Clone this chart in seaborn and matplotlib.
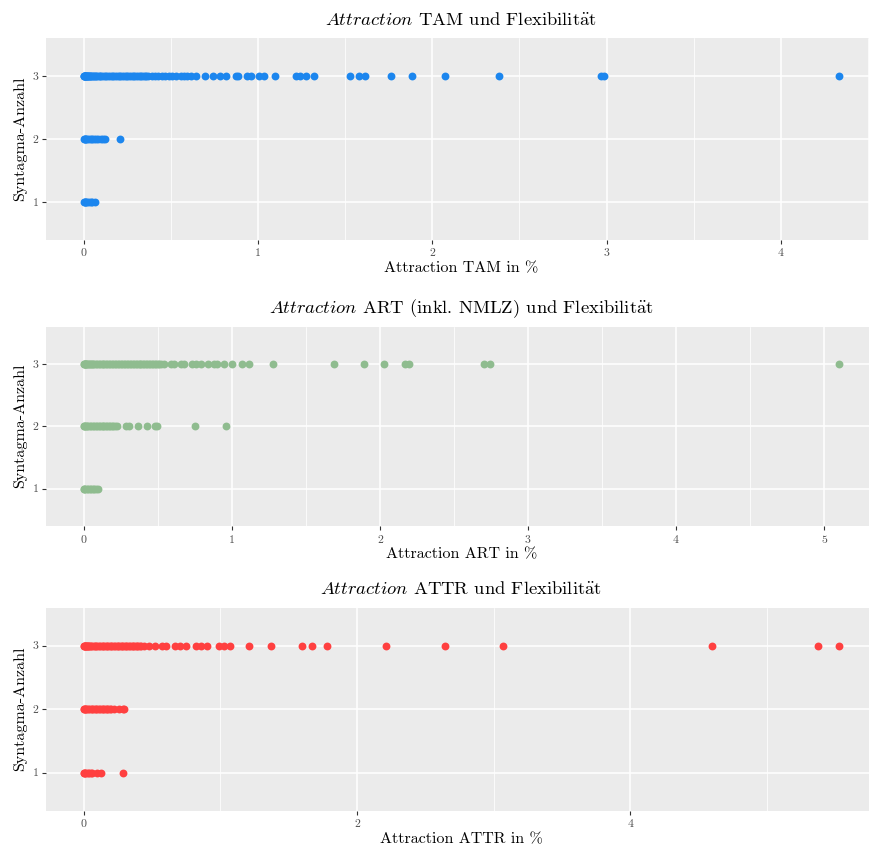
import matplotlib
matplotlib.use("Agg")
import matplotlib.pyplot as plt
import seaborn as sns
import pandas as pd

# ---- Attraction TAM (values in %) per Syntagma-Anzahl ----
tam_x3 = [0.0, 0.002, 0.004, 0.006, 0.008, 0.01, 0.012, 0.015, 0.018, 0.02, 0.023, 0.026,
          0.03, 0.034, 0.038, 0.042, 0.047, 0.052, 0.058, 0.064, 0.07, 0.077, 0.085, 0.093,
          0.1, 0.11, 0.12, 0.13, 0.14, 0.15, 0.16, 0.17, 0.18, 0.19, 0.2, 0.21, 0.22, 0.23,
          0.24, 0.25, 0.26, 0.27, 0.28, 0.29, 0.3, 0.31, 0.32, 0.33, 0.34, 0.35, 0.36, 0.37,
          0.39, 0.407, 0.427, 0.447, 0.468, 0.489, 0.508, 0.527, 0.556, 0.574, 0.594, 0.618,
          0.642, 0.693, 0.739, 0.779, 0.819, 0.871, 0.884, 0.938, 0.957, 1.005, 1.033,
          1.100, 1.215, 1.243, 1.278, 1.320, 1.530, 1.577, 1.612, 1.763, 1.883, 2.07, 2.38,
          2.965, 2.985, 4.332]
tam_x2 = [0.0, 0.005, 0.01, 0.015, 0.02, 0.03, 0.04, 0.05, 0.06, 0.07, 0.08, 0.1,
          0.11, 0.12, 0.208]
tam_x1 = [0.0, 0.005, 0.01, 0.015, 0.02, 0.03, 0.04, 0.05, 0.065]

# ---- Attraction ART (inkl. NMLZ) ----
art_x3 = [0.0, 0.003, 0.006, 0.01, 0.014, 0.018, 0.023, 0.028, 0.034, 0.04, 0.047, 0.055,
          0.063, 0.072, 0.08, 0.09, 0.1, 0.11, 0.12, 0.13, 0.14, 0.15, 0.16, 0.17, 0.18,
          0.19, 0.2, 0.21, 0.22, 0.23, 0.24, 0.25, 0.26, 0.27, 0.28, 0.29, 0.3, 0.31, 0.32,
          0.33, 0.34, 0.35, 0.36, 0.37, 0.38, 0.39, 0.4, 0.41, 0.42, 0.43, 0.44, 0.45, 0.46,
          0.47, 0.48, 0.49, 0.5, 0.51, 0.52, 0.54,
          0.587, 0.609, 0.655, 0.677, 0.733, 0.756, 0.789, 0.839, 0.879, 0.897, 0.947,
          1.003, 1.071, 1.116, 1.280, 1.689, 1.892, 2.031, 2.168, 2.198, 2.706, 2.742, 5.099]
art_x2 = [0.0, 0.005, 0.01, 0.015, 0.02, 0.03, 0.04, 0.05, 0.06, 0.07, 0.08, 0.09, 0.1,
          0.11, 0.12, 0.13, 0.14, 0.15, 0.16, 0.17, 0.18, 0.19, 0.2, 0.21, 0.227,
          0.283, 0.306, 0.369, 0.43, 0.481, 0.497, 0.749, 0.960]
art_x1 = [0.0, 0.005, 0.01, 0.02, 0.03, 0.04, 0.05, 0.06, 0.07, 0.08, 0.099]

# ---- Attraction ATTR ----
attr_x3 = [0.0, 0.003, 0.006, 0.01, 0.014, 0.018, 0.023, 0.028, 0.034, 0.04, 0.047, 0.055,
           0.063, 0.072, 0.08, 0.09, 0.1, 0.11, 0.12, 0.13, 0.14, 0.15, 0.16, 0.17, 0.18,
           0.19, 0.2, 0.21, 0.22, 0.23, 0.24, 0.25, 0.26, 0.27, 0.28, 0.29, 0.3, 0.31, 0.32,
           0.33, 0.34, 0.35, 0.36, 0.37, 0.38, 0.39, 0.4, 0.41, 0.42, 0.44,
           0.477, 0.519, 0.570, 0.604, 0.665, 0.702, 0.750, 0.819, 0.855, 0.899, 0.989,
           1.026, 1.074, 1.208, 1.372, 1.598, 1.671, 1.781, 2.212, 2.641, 3.072, 4.595,
           5.375, 5.526]
attr_x2 = [0.0, 0.005, 0.01, 0.015, 0.02, 0.03, 0.04, 0.05, 0.06, 0.07, 0.08, 0.09, 0.1,
           0.11, 0.12, 0.13, 0.14, 0.15, 0.16, 0.17, 0.18, 0.19, 0.2, 0.22, 0.258, 0.285, 0.295]
attr_x1 = [0.0, 0.005, 0.01, 0.02, 0.03, 0.04, 0.05, 0.06, 0.1, 0.124, 0.29]

syntagma_levels = [1, 2, 3]

UML_A = r"$\mathrm{\ddot{a}}$"

panels = [
    dict(x3=tam_x3, x2=tam_x2, x1=tam_x1, color="#1C86EE",
         title=r"$\mathit{Attraction}$ TAM und Flexibilit" + UML_A + "t",
         xlabel="Attraction TAM in %", major=[0, 1, 2, 3, 4], minor=[0.5, 1.5, 2.5, 3.5, 4.5]),
    dict(x3=art_x3, x2=art_x2, x1=art_x1, color="#8FBC8F",
         title=r"$\mathit{Attraction}$ ART (inkl. NMLZ) und Flexibilit" + UML_A + "t",
         xlabel="Attraction ART in %", major=[0, 1, 2, 3, 4, 5], minor=[0.5, 1.5, 2.5, 3.5, 4.5]),
    dict(x3=attr_x3, x2=attr_x2, x1=attr_x1, color="#FF4040",
         title=r"$\mathit{Attraction}$ ATTR und Flexibilit" + UML_A + "t",
         xlabel="Attraction ATTR in %", major=[0, 2, 4], minor=[1, 3, 5]),
]

sns.set_theme(style="darkgrid", rc={
    "axes.facecolor": "#EBEBEB",
    "grid.color": "white",
    "xtick.bottom": True, "ytick.left": True,
    "xtick.major.size": 3, "ytick.major.size": 3,
    "xtick.major.width": 0.8, "ytick.major.width": 0.8,
    "xtick.color": "#333333", "ytick.color": "#333333",
    "xtick.labelcolor": "#4D4D4D", "ytick.labelcolor": "#4D4D4D",
})
plt.rcParams["font.family"] = ["cmr10", "DejaVu Serif"]
plt.rcParams["mathtext.fontset"] = "cm"
plt.rcParams["axes.formatter.use_mathtext"] = True
plt.rcParams["axes.unicode_minus"] = False

W, H = 869, 850
fig = plt.figure(figsize=(W / 100, H / 100), dpi=100)

# panel boxes in pixels: (top, bottom)
boxes = [(38.2, 239.8), (326.6, 526.0), (607.6, 810.8)]
left_px, right_px = 46.0, 876.5

for p, (top, bot) in zip(panels, boxes):
    ax = fig.add_axes([left_px / W, 1 - bot / H, (right_px - left_px) / W, (bot - top) / H])
    df = pd.DataFrame({
        "x": p["x3"] + p["x2"] + p["x1"],
        "y": [3] * len(p["x3"]) + [2] * len(p["x2"]) + [1] * len(p["x1"]),
    })
    sns.scatterplot(data=df, x="x", y="y", ax=ax, color=p["color"], s=32,
                    linewidth=0, legend=False, zorder=3)
    xmax = max(df["x"])
    pad = 0.05 * xmax
    ax.set_xlim(-pad, xmax + pad)
    ax.set_ylim(0.4, 3.6)
    ax.set_yticks(syntagma_levels)
    ax.set_yticklabels([str(v) for v in syntagma_levels], fontsize=8.5)
    ax.set_xticks(p["major"])
    ax.set_xticklabels([str(v) for v in p["major"]], fontsize=8.5)
    ax.set_xticks(p["minor"], minor=True)
    ax.tick_params(axis="x", which="minor", length=0)
    ax.grid(which="major", color="white", linewidth=1.1)
    ax.grid(which="minor", axis="x", color="white", linewidth=0.55)
    ax.tick_params(axis="x", which="major", pad=3.5)
    ax.tick_params(axis="y", which="major", pad=2.5)
    for s in ax.spines.values():
        s.set_visible(False)
    ax.set_xlabel(p["xlabel"], fontsize=11.5, color="black", labelpad=2.5)
    ax.set_ylabel("Syntagma-Anzahl", fontsize=11.5, color="black", labelpad=4)
    ax.set_title(p["title"], fontsize=13.4, color="black", pad=9.5)

fig.savefig("out.png", dpi=100)
